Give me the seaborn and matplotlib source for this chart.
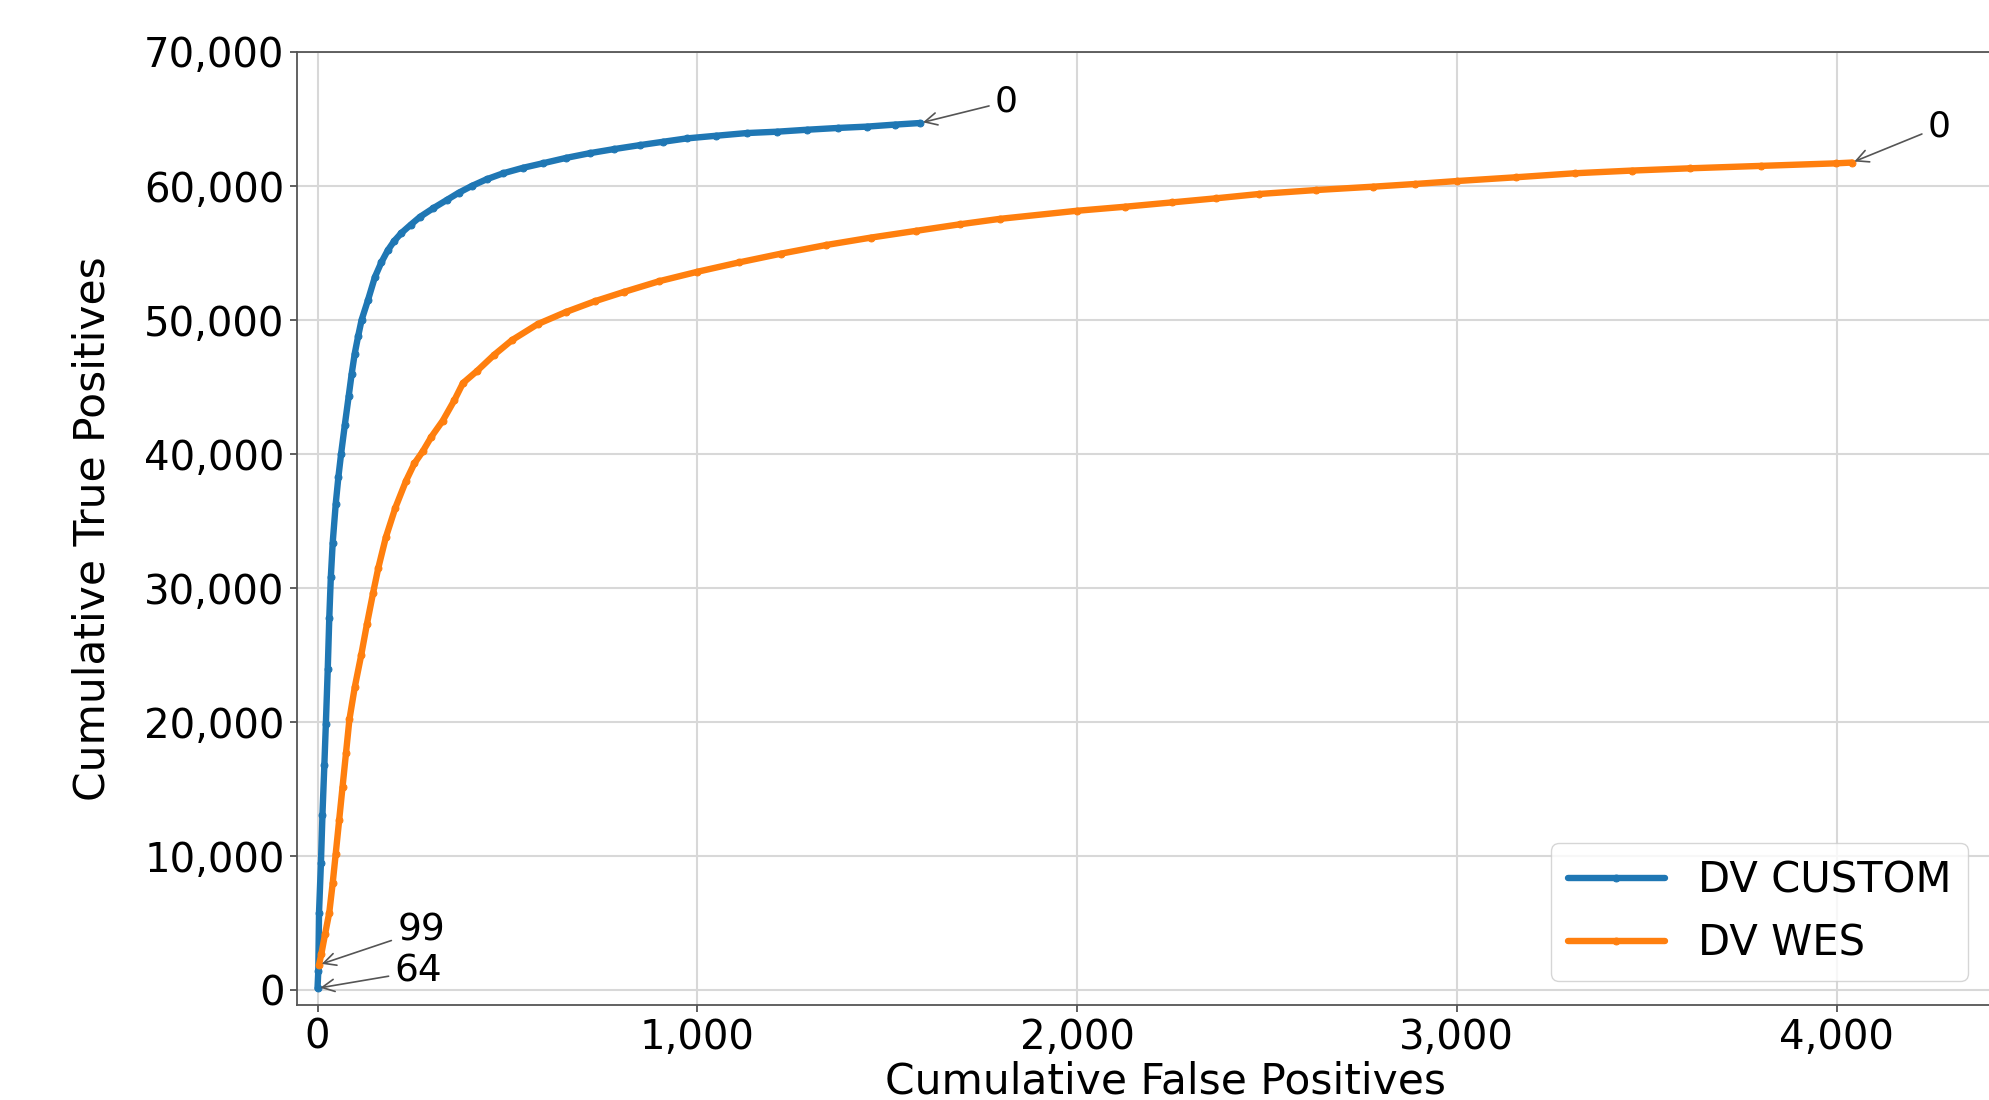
import numpy as np
import pandas as pd
import seaborn as sns
import matplotlib
matplotlib.use("Agg")
import matplotlib.pyplot as plt
from matplotlib.ticker import FuncFormatter, MultipleLocator

# cumulative FP / TP (quality threshold high -> low)
custom_fp = [0, 2, 4, 9, 13, 18, 22, 27, 31, 35, 40, 48, 55, 62, 72, 82, 90, 98,
             107, 116, 133, 151, 168, 185, 202, 221, 245, 270, 305, 340, 372, 406,
             445, 489, 540, 594, 655, 717, 780, 849, 910, 972, 1050, 1130, 1209,
             1290, 1370, 1446, 1520, 1587]
custom_tp = [150, 1400, 5800, 9500, 13100, 16800, 19900, 24000, 27800, 30800, 33400,
             36300, 38300, 40000, 42200, 44300, 46000, 47500, 48800, 50000, 51500,
             53200, 54300, 55200, 55900, 56500, 57100, 57700, 58350, 58950, 59500,
             60000, 60500, 60950, 61350, 61700, 62100, 62450, 62750, 63050, 63300,
             63550, 63750, 63950, 64050, 64200, 64330, 64430, 64580, 64700]

wes_fp = [4, 10, 20, 31, 40, 48, 57, 66, 75, 84, 98, 115, 130, 146, 160, 180, 205,
          233, 255, 277, 300, 330, 360, 383, 420, 465, 512, 580, 654, 730, 807, 900,
          1000, 1110, 1220, 1340, 1457, 1575, 1693, 1797, 1999, 2125, 2251, 2365,
          2478, 2630, 2780, 2890, 3000, 3155, 3310, 3460, 3613, 3800, 3998, 4040]
wes_tp = [1900, 2700, 4200, 5800, 8000, 10200, 12700, 15200, 17700, 20200, 22600,
          25000, 27300, 29600, 31500, 33800, 36000, 38000, 39300, 40200, 41300, 42500,
          44000, 45300, 46200, 47400, 48500, 49700, 50600, 51400, 52100, 52900, 53600,
          54300, 54950, 55600, 56150, 56650, 57150, 57550, 58150, 58450, 58780, 59080,
          59400, 59700, 59950, 60150, 60370, 60650, 60950, 61150, 61320, 61500, 61690,
          61750]

callers = ["DV CUSTOM", "DV WES"]
colors = ["#1f77b4", "#ff7f0e"]

# quality thresholds labelled at the ends of each curve
custom_q_hi, custom_q_lo = "64", "0"
wes_q_hi, wes_q_lo = "99", "0"

df = pd.concat([
    pd.DataFrame({"fp": custom_fp, "tp": custom_tp, "caller": callers[0]}),
    pd.DataFrame({"fp": wes_fp, "tp": wes_tp, "caller": callers[1]}),
], ignore_index=True)

sns.set_theme(style="ticks")
plt.rcParams["font.family"] = ["DejaVu Sans"]
plt.rcParams["text.color"] = "black"
plt.rcParams["axes.labelcolor"] = "black"
plt.rcParams["xtick.color"] = "#444444"
plt.rcParams["ytick.color"] = "#444444"
plt.rcParams["xtick.labelcolor"] = "black"
plt.rcParams["ytick.labelcolor"] = "black"

fig = plt.figure(figsize=(19.9, 11), dpi=100)
ax = fig.add_axes([0.14925, 0.08636, 0.8729, 0.8664])

sns.lineplot(data=df, x="fp", y="tp", hue="caller", hue_order=callers,
             palette=colors, marker=".", markersize=10, markeredgewidth=0.7,
             linewidth=4.6, sort=False, estimator=None, ax=ax)
for ln in ax.lines:
    ln.set_markeredgecolor(ln.get_color())

ax.set_xlim(-54, 4520)
ax.set_ylim(-1100, 70000)
ax.xaxis.set_major_locator(MultipleLocator(1000))
ax.yaxis.set_major_locator(MultipleLocator(10000))
fmt = FuncFormatter(lambda v, p: f"{int(v):,}")
ax.xaxis.set_major_formatter(fmt)
ax.yaxis.set_major_formatter(fmt)
ax.tick_params(labelsize=29, length=5, width=1.2, pad=4)

ax.grid(True, color="#d8d8d8", linewidth=1.5)
ax.set_axisbelow(True)
for s in ax.spines.values():
    s.set_color("#555555")
    s.set_linewidth(1.3)

ax.set_xlabel("Cumulative False Positives", fontsize=30.5, labelpad=2)
ax.set_ylabel("Cumulative True Positives", fontsize=30.5, labelpad=22)

arrow = dict(arrowstyle="->", color="#555555", lw=1.2, mutation_scale=22)
ax.annotate(custom_q_lo, xy=(custom_fp[-1], custom_tp[-1]), xytext=(1784, 65550),
            fontsize=26, ha="left", va="baseline", arrowprops=arrow)
ax.annotate(wes_q_lo, xy=(wes_fp[-1], wes_tp[-1]), xytext=(4240, 63660),
            fontsize=26, ha="left", va="baseline", arrowprops=arrow)
ax.annotate(wes_q_hi, xy=(wes_fp[0], wes_tp[0]), xytext=(210, 3710),
            fontsize=27, ha="left", va="baseline", arrowprops=arrow)
ax.annotate(custom_q_hi, xy=(custom_fp[0], custom_tp[0]), xytext=(203, 680),
            fontsize=27, ha="left", va="baseline", arrowprops=arrow)

handles, labels = ax.get_legend_handles_labels()
ax.legend(handles, labels, loc="lower left", bbox_to_anchor=(1551 / 1990, 1 - 981 / 1100),
          bbox_transform=fig.transFigure, borderaxespad=0, fontsize=30,
          handlelength=2.33, frameon=True, edgecolor="#cccccc", fancybox=True)

fig.savefig("out.png", dpi=100)
